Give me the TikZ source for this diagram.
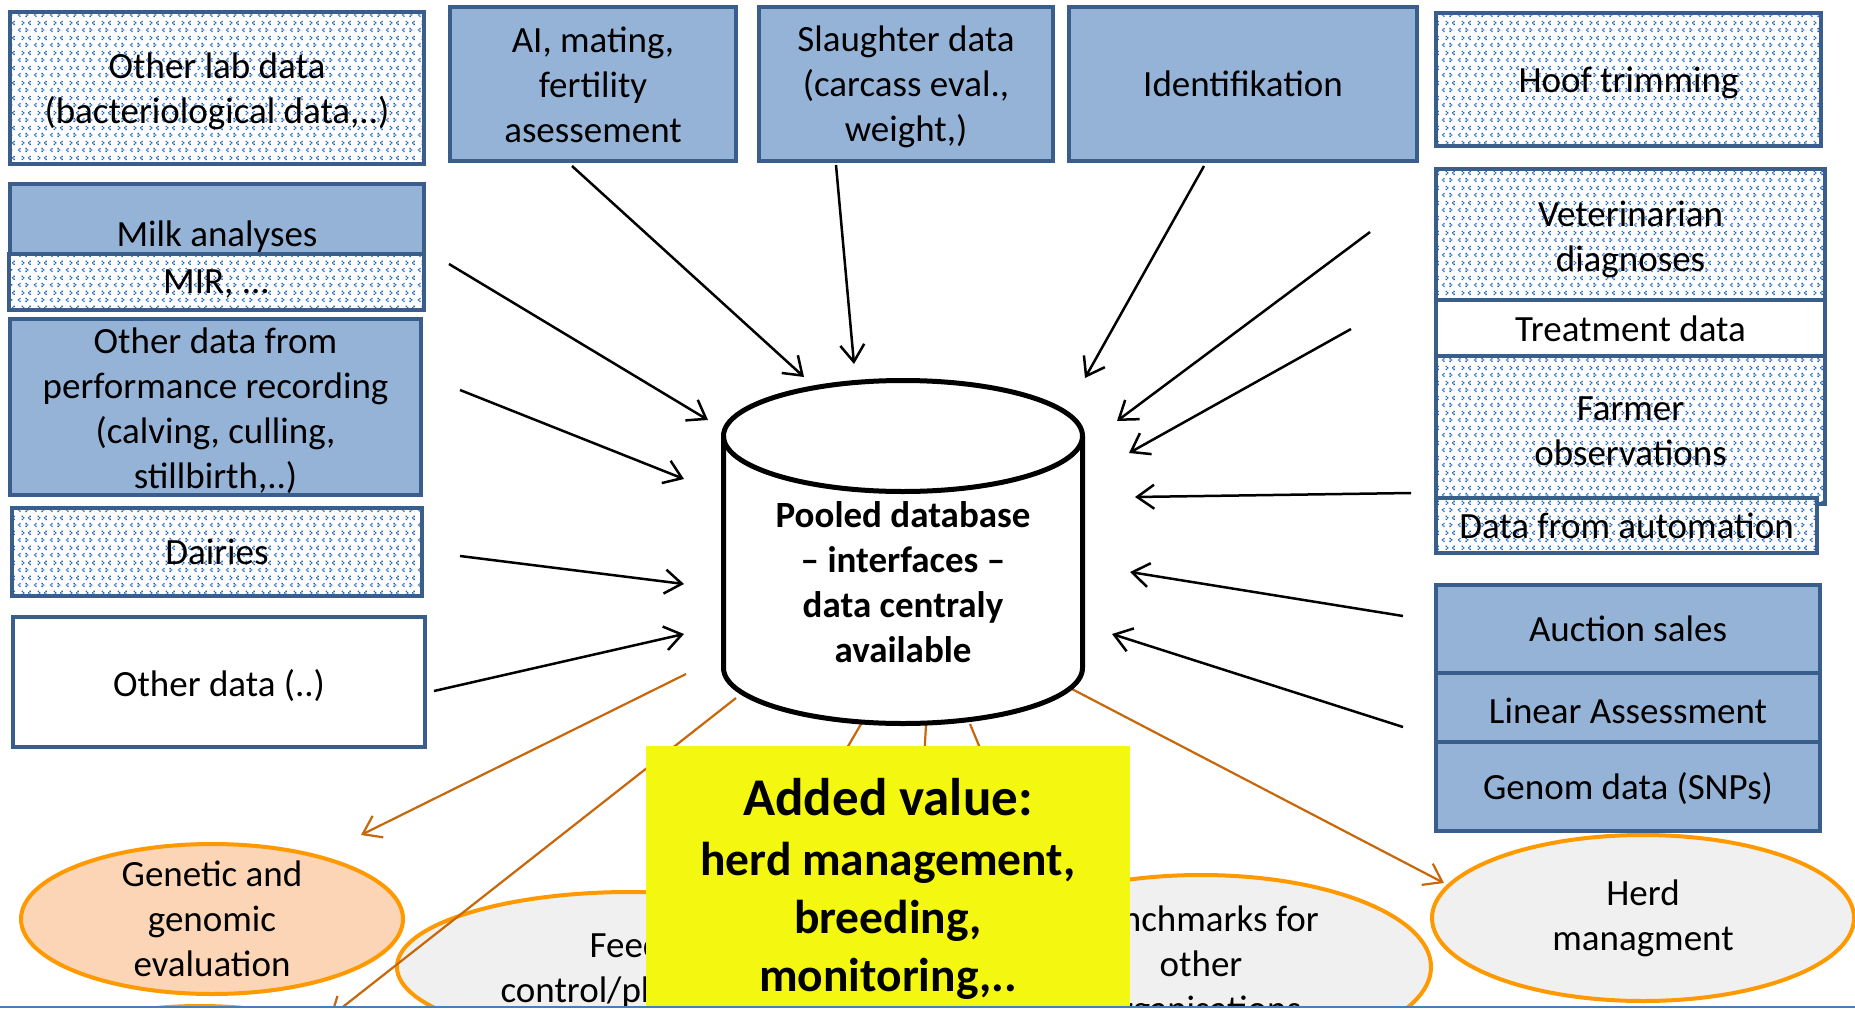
\documentclass[tikz,border=0pt]{standalone}
\usepackage{fontspec}
\setmainfont{Carlito}
\usetikzlibrary{shapes.geometric,arrows.meta,patterns}
\definecolor{boxblue}{HTML}{95B3D7}
\definecolor{bdr}{HTML}{3A5E8C}
\definecolor{patblue}{HTML}{1D63C4}
\definecolor{orng}{HTML}{FF9900}
\definecolor{peach}{HTML}{FBD5B5}
\definecolor{lgray}{HTML}{F0F0F0}
\definecolor{oline}{HTML}{C8660A}
\definecolor{yel}{HTML}{F4F811}
\definecolor{botline}{HTML}{4A7EBB}
\pgfdeclarepatternformonly{bluedots}{\pgfpointorigin}{\pgfpoint{16pt}{15pt}}{\pgfpoint{16pt}{15pt}}{%
  % '<' at (2,2)
  \pgfpathrectangle{\pgfpoint{3.5pt}{2pt}}{\pgfpoint{1.5pt}{1.5pt}}%
  \pgfpathrectangle{\pgfpoint{2pt}{3.5pt}}{\pgfpoint{1.5pt}{1.5pt}}%
  \pgfpathrectangle{\pgfpoint{3.5pt}{5pt}}{\pgfpoint{1.5pt}{1.5pt}}%
  % '>' at (10,2)
  \pgfpathrectangle{\pgfpoint{10pt}{2pt}}{\pgfpoint{1.5pt}{1.5pt}}%
  \pgfpathrectangle{\pgfpoint{11.5pt}{3.5pt}}{\pgfpoint{1.5pt}{1.5pt}}%
  \pgfpathrectangle{\pgfpoint{10pt}{5pt}}{\pgfpoint{1.5pt}{1.5pt}}%
  % '>' at (6,9.5)
  \pgfpathrectangle{\pgfpoint{6pt}{9.5pt}}{\pgfpoint{1.5pt}{1.5pt}}%
  \pgfpathrectangle{\pgfpoint{7.5pt}{11pt}}{\pgfpoint{1.5pt}{1.5pt}}%
  \pgfpathrectangle{\pgfpoint{6pt}{12.5pt}}{\pgfpoint{1.5pt}{1.5pt}}%
  % '<' at (13,9.5)
  \pgfpathrectangle{\pgfpoint{14.3pt}{9.5pt}}{\pgfpoint{1.5pt}{1.5pt}}%
  \pgfpathrectangle{\pgfpoint{12.8pt}{11pt}}{\pgfpoint{1.5pt}{1.5pt}}%
  \pgfpathrectangle{\pgfpoint{14.3pt}{12.5pt}}{\pgfpoint{1.5pt}{1.5pt}}%
  \pgfusepath{fill}%
}
\newcommand\boxfont{\fontsize{37}{45}\selectfont}
% #1 style, #2-#5 corners, #6 name, #7 text, #8 text shift down (px)
\newcommand\mybox[8]{\node[#1, minimum width={(#4)-(#2)}, minimum height={(#5)-(#3)},
  label={[boxlab,yshift=-#8pt]center:{#7}}] (#6) at ({((#2)+(#4))/2},{((#3)+(#5))/2}) {};}
\tikzset{
  box/.style={rectangle, draw=bdr, line width=4pt, inner sep=0pt, outer sep=0pt},
  boxlab/.style={font=\boxfont, align=center, inner sep=0pt},
  bluebox/.style={box, fill=boxblue},
  dotbox/.style={box, preaction={fill=white}, pattern=bluedots, pattern color=patblue},
  whitebox/.style={box, fill=white},
  ell/.style={ellipse, draw=orng, line width=4pt, inner sep=0pt, outer sep=0pt},
  ellpeach/.style={ell, fill=peach},
  ellgray/.style={ell, fill=lgray},
  elltext/.style={font=\boxfont, align=center},
  inarrow/.style={draw=black, line width=2.5pt, -{Straight Barb[length=17pt,width=24pt]}},
  outarrow/.style={draw=oline, line width=2.2pt, -{Straight Barb[length=17pt,width=24pt]}},
  outline/.style={draw=oline, line width=2.2pt},
  cylline/.style={draw=black, line width=5pt, line join=round},
}
\begin{document}
\begin{tikzpicture}[x=1pt,y=-1pt]
\useasboundingbox (0,0) rectangle (1855,1009);
\fill[white] (0,0) rectangle (1855,1009);
\begin{scope}
\clip (0,0) rectangle (1855,1007);
% ellipses
\node[ellpeach, minimum width=382pt, minimum height=150pt,
  label={[elltext]center:Genetic and\\genomic\\evaluation}] (gen) at (212,919) {};
\node[ellpeach, minimum width=382pt, minimum height=150pt] (gen2) at (200,1081) {};
\node[ellgray, minimum width=466pt, minimum height=150pt,
  label={[elltext,xshift=-4pt,yshift=-3pt]center:Feed\\control/planning}] (feed) at (630,967) {};
\node[ellgray, minimum width=460pt, minimum height=184pt,
  label={[elltext]center:Benchmarks for\\other\\organisations}] (bench) at (1201,967) {};
\node[ellgray, minimum width=422pt, minimum height=166pt,
  label={[elltext]center:Herd\\managment}] (herd) at (1643,918) {};
% orange connectors
\coordinate (o1s) at (686,674); \coordinate (o1e) at (361,835);
\coordinate (o2s) at (736,698); \coordinate (o2e) at (330,1017);
\coordinate (o3s) at (864,719); \coordinate (o3e) at (840,760);
\coordinate (o4s) at (926,725); \coordinate (o4e) at (924,760);
\coordinate (o5s) at (970,724); \coordinate (o5e) at (985,760);
\coordinate (o6s) at (1070,688); \coordinate (o6e) at (1444,883);
\draw[outarrow] (o1s) -- (o1e);
\draw[outarrow] (o2s) -- (o2e);
\draw[outline] (o3s) -- (o3e);
\draw[outline] (o4s) -- (o4e);
\draw[outline] (o5s) -- (o5e);
\draw[outarrow] (o6s) -- (o6e);
% cylinder
\fill[white] (723.5,436) -- (723.5,668) arc[start angle=180,end angle=360,x radius=179.5pt,y radius=55.5pt]
  -- (1082.5,436) arc[start angle=0,end angle=180,x radius=179.5pt,y radius=55.5pt] -- cycle;
\draw[cylline] (723.5,436) -- (723.5,668) arc[start angle=180,end angle=360,x radius=179.5pt,y radius=55.5pt] -- (1082.5,436);
\draw[cylline] (903,436) ellipse [x radius=179.5pt, y radius=55.5pt];
\node[font=\boxfont\bfseries, align=center] (db) at (903,582) {Pooled database\\– interfaces –\\data centraly\\available};
% yellow box
\node[fill=yel, minimum width=484pt, minimum height=300pt, inner sep=0pt, anchor=north west] (yb) at (646,746) {};
\node[font=\fontsize{53}{60}\selectfont\bfseries, anchor=base] (av) at (888,815) {Added value:};
\node[font=\fontsize{47.5}{58}\selectfont\bfseries, align=center] (avt) at (888,921) {herd management,\\breeding,\\monitoring,..};
% left boxes
\mybox{dotbox}{10}{12}{424}{164}{lab}{Other lab data\\(bacteriological data,..)}{3.5}
\mybox{bluebox}{10}{184}{424}{288}{milk}{Milk analyses}{1}
\mybox{dotbox}{9}{254}{424}{310}{mir}{MIR, ...}{2}
\mybox{bluebox}{10}{319}{421}{495}{perf}{Other data from\\performance recording\\(calving, culling,\\stillbirth,..)}{3.5}
\mybox{dotbox}{12}{508}{422}{596}{dairy}{Dairies}{0}
\mybox{whitebox}{13}{617}{425}{747}{other}{Other data (..)}{3.5}
% top boxes
\mybox{bluebox}{450}{7}{736}{161}{ai}{AI, mating,\\fertility\\asessement}{0.5}
\mybox{bluebox}{759}{7}{1053}{161}{slaughter}{Slaughter data\\(carcass eval.,\\weight,)}{3}
\mybox{bluebox}{1069}{7}{1417}{161}{ident}{Identifikation}{0}
% right boxes
\mybox{dotbox}{1436}{13}{1821}{146}{hoof}{Hoof trimming}{3.5}
\mybox{dotbox}{1436}{169}{1825}{300}{vet}{Veterinarian\\diagnoses}{4.5}
\mybox{whitebox}{1436}{300}{1825}{356}{treat}{Treatment data}{1}
\mybox{dotbox}{1436}{356}{1825}{504}{farmer}{Farmer\\observations}{1}
\mybox{dotbox}{1436}{498}{1817}{553}{auto}{Data from automation}{0}
\mybox{bluebox}{1436}{585}{1820}{673}{auction}{Auction sales}{0}
\mybox{bluebox}{1436}{673}{1820}{750}{linear}{Linear Assessment}{-1}
\mybox{bluebox}{1436}{742}{1820}{831}{genom}{Genom data (SNPs)}{2}
% black connectors
\coordinate (i1s) at (449,264);  \coordinate (i1e) at (708,420);
\coordinate (i2s) at (460,390);  \coordinate (i2e) at (684,479);
\coordinate (i3s) at (460,556);  \coordinate (i3e) at (684,584);
\coordinate (i4s) at (434,691);  \coordinate (i4e) at (684,634);
\coordinate (i5s) at (572,166);  \coordinate (i5e) at (804,377);
\coordinate (i6s) at (836,165);  \coordinate (i6e) at (854,364);
\coordinate (i7s) at (1204,166); \coordinate (i7e) at (1085,378);
\coordinate (i8s) at (1370,232); \coordinate (i8e) at (1117,421);
\coordinate (i9s) at (1351,329); \coordinate (i9e) at (1129,453);
\coordinate (i10s) at (1411,493); \coordinate (i10e) at (1135,497);
\coordinate (i11s) at (1403,616); \coordinate (i11e) at (1130,572);
\coordinate (i12s) at (1403,727); \coordinate (i12e) at (1112,634);
\foreach \k in {1,...,12} { \draw[inarrow] (i\k s) -- (i\k e); }
\end{scope}
\coordinate (bl) at (0,1007); \coordinate (br) at (1855,1007);
\draw[botline, line width=2.5pt] (bl) -- (br);
\end{tikzpicture}
\end{document}
